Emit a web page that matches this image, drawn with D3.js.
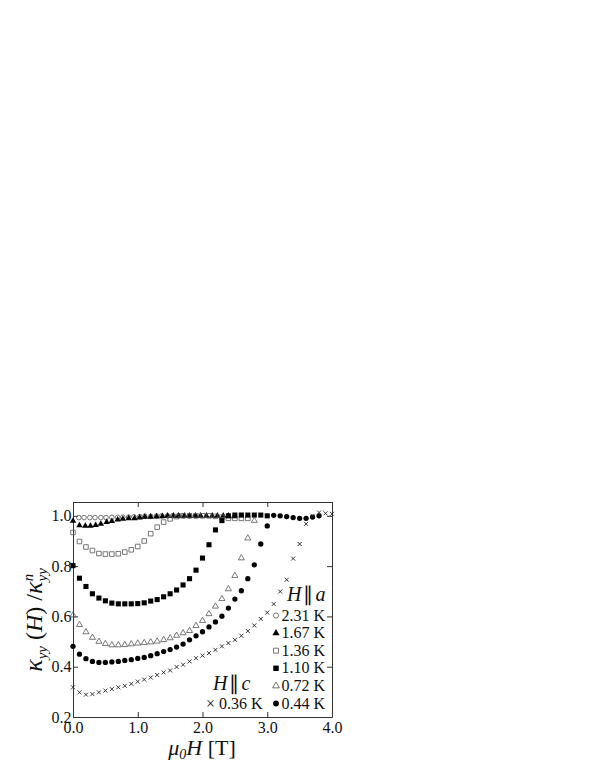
<!DOCTYPE html>
<html>
<head>
<meta charset="utf-8">
<script src="https://cdn.jsdelivr.net/npm/d3@7"></script>
<style>
  body { margin: 0; background: #fff; }
  svg text { font-family: "Liberation Serif", "Times New Roman", serif; fill: #111; }
</style>
</head>
<body>
<svg id="chart" width="595" height="770"></svg>
<script>
// field values (T) and normalised thermal conductivity for each temperature
const x231 = [0.09, 0.17, 0.26, 0.34, 0.43, 0.51, 0.60, 0.69, 0.77, 0.86, 0.94, 1.03, 1.11, 1.20, 1.29, 1.37, 1.46, 1.54, 1.63, 1.71, 1.80, 1.89];
const y231 = [0.993, 0.993, 0.993, 0.993, 0.993, 0.993, 0.994, 0.994, 0.995, 0.995, 0.996, 0.997, 0.998, 0.998, 0.999, 1.0, 1.0, 1.0, 1.0, 1.0, 1.0, 1.0];

const x167 = [0.0, 0.10, 0.19, 0.27, 0.35, 0.43, 0.52, 0.60, 0.69, 0.77, 0.86, 0.95, 1.03, 1.11, 1.20, 1.29, 1.38, 1.46, 1.55, 1.63, 1.72, 1.80, 1.89, 1.97, 2.06, 2.15, 2.23, 2.32, 2.40, 2.49];
const y167 = [0.980, 0.962, 0.960, 0.960, 0.963, 0.968, 0.975, 0.979, 0.985, 0.988, 0.990, 0.990, 0.993, 0.996, 0.996, 0.997, 0.998, 1.0, 1.0, 1.0, 1.0, 1.0, 1.0, 1.0, 1.0, 1.0, 1.0, 1.0, 1.0, 0.998];

const x136 = [0.0, 0.1, 0.2, 0.3, 0.4, 0.5, 0.6, 0.7, 0.8, 0.9, 1.0, 1.1, 1.2, 1.3, 1.4, 1.5, 1.6, 1.7, 1.8, 1.9, 2.0, 2.1, 2.2, 2.3, 2.4, 2.5, 2.6, 2.7];
const y136 = [0.934, 0.898, 0.876, 0.862, 0.850, 0.848, 0.848, 0.849, 0.856, 0.865, 0.878, 0.900, 0.929, 0.955, 0.975, 0.988, 0.997, 1.0, 1.0, 1.0, 1.0, 1.0, 0.998, 0.995, 0.990, 0.990, 0.990, 0.990];

const x110 = [0.0, 0.1, 0.2, 0.3, 0.4, 0.5, 0.6, 0.7, 0.8, 0.9, 1.0, 1.1, 1.2, 1.3, 1.4, 1.5, 1.6, 1.7, 1.8, 1.9, 2.0, 2.1, 2.2, 2.3, 2.4, 2.5, 2.6, 2.7, 2.8, 2.9, 3.0];
const y110 = [0.802, 0.752, 0.719, 0.690, 0.673, 0.662, 0.653, 0.650, 0.650, 0.650, 0.651, 0.654, 0.661, 0.667, 0.678, 0.690, 0.705, 0.725, 0.750, 0.784, 0.832, 0.885, 0.944, 0.981, 1.0, 1.003, 1.003, 1.003, 1.003, 1.003, 1.0];

const x072 = [0.0, 0.1, 0.2, 0.3, 0.4, 0.5, 0.6, 0.7, 0.8, 0.9, 1.0, 1.1, 1.2, 1.3, 1.4, 1.5, 1.6, 1.7, 1.8, 1.9, 2.0, 2.1, 2.2, 2.3, 2.4, 2.5, 2.6, 2.7, 2.8];
const y072 = [0.605, 0.567, 0.538, 0.516, 0.500, 0.491, 0.486, 0.486, 0.487, 0.490, 0.493, 0.495, 0.498, 0.501, 0.507, 0.514, 0.524, 0.534, 0.543, 0.563, 0.583, 0.610, 0.640, 0.670, 0.709, 0.762, 0.832, 0.911, 0.981];

const x044 = [0.0, 0.1, 0.2, 0.3, 0.4, 0.5, 0.6, 0.7, 0.8, 0.9, 1.0, 1.1, 1.2, 1.3, 1.4, 1.5, 1.6, 1.7, 1.8, 1.9, 2.0, 2.1, 2.2, 2.3, 2.4, 2.5, 2.6, 2.7, 2.8, 2.9, 3.0, 3.1, 3.2, 3.3, 3.4, 3.5, 3.6, 3.7, 3.8];
const y044 = [0.481, 0.450, 0.432, 0.421, 0.417, 0.417, 0.419, 0.421, 0.425, 0.428, 0.433, 0.437, 0.444, 0.452, 0.460, 0.468, 0.478, 0.490, 0.507, 0.523, 0.539, 0.558, 0.578, 0.601, 0.633, 0.669, 0.702, 0.750, 0.805, 0.888, 0.960, 1.002, 1.0, 0.997, 0.993, 0.990, 0.990, 0.995, 1.0];

const x036 = [0.0, 0.1, 0.2, 0.3, 0.4, 0.5, 0.6, 0.7, 0.8, 0.9, 1.0, 1.1, 1.2, 1.3, 1.4, 1.5, 1.6, 1.7, 1.8, 1.9, 2.0, 2.1, 2.2, 2.3, 2.4, 2.5, 2.6, 2.7, 2.8, 2.9, 3.0, 3.1, 3.2, 3.3, 3.4, 3.5, 3.6, 3.7, 3.8, 3.9, 4.0];
const y036 = [0.318, 0.298, 0.289, 0.291, 0.298, 0.305, 0.311, 0.318, 0.324, 0.332, 0.341, 0.349, 0.357, 0.367, 0.377, 0.385, 0.399, 0.408, 0.421, 0.434, 0.444, 0.454, 0.467, 0.481, 0.494, 0.507, 0.523, 0.542, 0.564, 0.590, 0.615, 0.649, 0.699, 0.746, 0.830, 0.888, 0.968, 1.0, 1.013, 1.010, 1.008];

const xTicks = [0, 1, 2, 3, 4];
const yTicks = [0.2, 0.4, 0.6, 0.8, 1.0];

const svg = d3.select("#chart");
const plotLeft = 73, plotRight = 332, plotTop = 502, plotBottom = 717;

const x = d3.scaleLinear().domain([0, 4]).range([plotLeft, plotRight]);
const y = d3.scaleLinear().domain([0.2, 1.055]).range([plotBottom, plotTop]);

const axisColor = "#333";

function styleAxis(g) {
  g.attr("font-family", null).attr("font-size", null);
  g.select(".domain").attr("stroke", axisColor).attr("stroke-width", 1);
  g.selectAll(".tick line").attr("stroke", axisColor).attr("stroke-width", 1);
  g.selectAll(".tick text").attr("fill", "#111").style("font-size", "16px");
}

svg.append("g")
    .attr("transform", `translate(0,${plotBottom})`)
    .call(d3.axisBottom(x).tickValues(xTicks).tickFormat(d3.format(".1f"))
      .tickSizeInner(-5).tickSizeOuter(0).tickPadding(5))
    .call(styleAxis);

svg.append("g")
    .attr("transform", `translate(0,${plotTop})`)
    .call(d3.axisTop(x).tickValues(xTicks).tickFormat("")
      .tickSizeInner(-5).tickSizeOuter(0))
    .call(styleAxis);

svg.append("g")
    .attr("transform", `translate(${plotLeft},0)`)
    .call(d3.axisLeft(y).tickValues(yTicks).tickFormat(d3.format(".1f"))
      .tickSizeInner(-5).tickSizeOuter(0).tickPadding(1.5))
    .call(styleAxis);

svg.append("g")
    .attr("transform", `translate(${plotRight},0)`)
    .call(d3.axisRight(y).tickValues(yTicks).tickFormat("")
      .tickSizeInner(-5).tickSizeOuter(0))
    .call(styleAxis);

// marker helpers
const openStroke = "#555";
const shapes = {
  openCircle: { type: d3.symbolCircle, size: 17, fill: "none", stroke: openStroke },
  filledTri: { type: d3.symbolTriangle, size: 18, fill: "#000", stroke: "none" },
  openSquare: { type: d3.symbolSquare, size: 21, fill: "none", stroke: openStroke },
  filledSquare: { type: d3.symbolSquare, size: 26, fill: "#000", stroke: "none" },
  openTri: { type: d3.symbolTriangle, size: 16, fill: "none", stroke: openStroke },
  filledCircle: { type: d3.symbolCircle, size: 22, fill: "#000", stroke: "none" }
};

function crossPath(cx, cy, r) {
  return `M${cx - r},${cy - r}L${cx + r},${cy + r}M${cx - r},${cy + r}L${cx + r},${cy - r}`;
}

function drawSeries(xs, ys, kind) {
  const data = xs.map((v, i) => ({ x: v, y: ys[i] }));
  const g = svg.append("g");
  if (kind === "cross") {
    g.selectAll("path").data(data).join("path")
        .attr("d", d => crossPath(x(d.x), y(d.y), 2))
        .attr("stroke", "#222").attr("stroke-width", 0.9).attr("fill", "none");
    return;
  }
  const s = shapes[kind];
  g.selectAll("path").data(data).join("path")
      .attr("transform", d => `translate(${x(d.x)},${y(d.y)})`)
      .attr("d", d3.symbol().type(s.type).size(s.size))
      .attr("fill", s.fill)
      .attr("stroke", s.stroke)
      .attr("stroke-width", 0.8);
}

drawSeries(x231, y231, "openCircle");
drawSeries(x167, y167, "filledTri");
drawSeries(x136, y136, "openSquare");
drawSeries(x110, y110, "filledSquare");
drawSeries(x072, y072, "openTri");
drawSeries(x044, y044, "filledCircle");
drawSeries(x036, y036, "cross");

// legend H || a
const legendLabels = ["2.31 K", "1.67 K", "1.36 K", "1.10 K", "0.72 K", "0.44 K"];
const legendKinds = ["openCircle", "filledTri", "openSquare", "filledSquare", "openTri", "filledCircle"];

function parallelLabel(px, py, letter) {
  svg.append("text")
      .attr("x", px).attr("y", py)
      .style("font-size", "20px")
      .call(t => {
        t.append("tspan").style("font-style", "italic").text("H");
        t.append("tspan").attr("dx", 2).text("\u2225");
        t.append("tspan").attr("dx", 2).style("font-style", "italic").text(letter);
      });
}

parallelLabel(287, 601, "a");

const leg = svg.append("g");
legendLabels.forEach((lab, i) => {
  const ly = 620.5 + i * 17.6;
  const s = shapes[legendKinds[i]];
  leg.append("path")
      .attr("transform", `translate(276,${ly - 5})`)
      .attr("d", d3.symbol().type(s.type).size(s.size + 4))
      .attr("fill", s.fill).attr("stroke", s.stroke).attr("stroke-width", 0.8);
  leg.append("text")
      .attr("x", 281.5).attr("y", ly)
      .style("font-size", "16px")
      .text(lab);
});

// legend H || c
parallelLabel(213, 690, "c");

svg.append("text")
    .attr("x", 206).attr("y", 708.5)
    .style("font-size", "16px")
    .text("\u00d7 0.36 K");

// axis titles
svg.append("text")
    .attr("x", 202).attr("y", 755)
    .attr("text-anchor", "middle")
    .style("font-size", "22px")
    .call(t => {
      t.append("tspan").style("font-style", "italic").text("\u03bc");
      t.append("tspan").style("font-style", "italic").style("font-size", "14px").attr("dy", 4).text("0");
      t.append("tspan").style("font-style", "italic").attr("dy", -4).text("H");
      t.append("tspan").text(" [T]");
    });

svg.append("text")
    .attr("transform", "translate(42,620) rotate(-90)")
    .attr("text-anchor", "middle")
    .style("font-size", "24px")
    .call(t => {
      t.append("tspan").style("font-style", "italic").style("font-size", "26px").text("\u03ba");
      t.append("tspan").style("font-style", "italic").style("font-size", "15px").attr("dy", 5).text("yy");
      t.append("tspan").attr("dy", -5).text(" (");
      t.append("tspan").style("font-style", "italic").text("H");
      t.append("tspan").text(") /");
      t.append("tspan").style("font-style", "italic").style("font-size", "26px").text("\u03ba");
      t.append("tspan").style("font-style", "italic").style("font-size", "15px").attr("dy", 5).text("yy");
      t.append("tspan").style("font-style", "italic").style("font-size", "15px").attr("dx", -13).attr("dy", -14).text("n");
    });
</script>
</body>
</html>
